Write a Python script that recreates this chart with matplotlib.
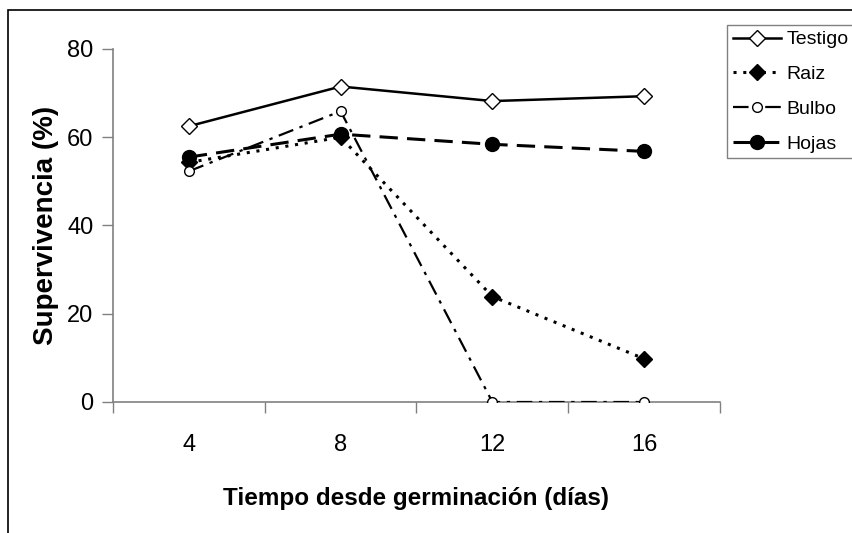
import numpy as np
from matplotlib import pyplot as plt
from matplotlib.patches import Rectangle

dias = ["4", "8", "12", "16"]
testigo = [62.5, 71.5, 68.2, 69.3]
raiz = [54.3, 60.0, 23.9, 9.8]
bulbo = [52.3, 65.9, 0.0, 0.0]
hojas = [55.5, 60.7, 58.4, 56.8]


def main():
  plt.rcParams["font.family"] = ["Liberation Sans", "DejaVu Sans"]
  fig = plt.figure(figsize=(8.53, 5.33), dpi=100)
  ax = fig.add_axes([113 / 853, 1 - 402 / 533, 607 / 853, 353 / 533])

  x = np.arange(len(dias))
  ax.plot(x, testigo, color="black", lw=1.8, ls="-", marker="D", ms=8,
          mfc="white", mec="black", mew=1, label="Testigo", zorder=3)
  ax.plot(x, raiz, color="black", lw=2.2, ls=(0, (1, 2.2)), marker="D", ms=8,
          mfc="black", mec="black", label="Raiz", zorder=3)
  ax.plot(x, bulbo, color="black", lw=1.6, ls=(0, (7, 3, 1.5, 3)), marker="o", ms=7,
          mfc="white", mec="black", mew=1, label="Bulbo", zorder=3)
  ax.plot(x, hojas, color="black", lw=2.2, ls=(0, (6, 3)), marker="o", ms=10,
          mfc="black", mec="black", label="Hojas", zorder=3)

  ax.set_xlim(-0.5, len(dias) - 0.5)
  ax.set_ylim(0, 80)
  ax.set_yticks([0, 20, 40, 60, 80])
  ax.set_xticks(np.arange(len(dias) + 1) - 0.5)
  ax.set_xticklabels([])
  ax.set_xticks(x, minor=True)
  ax.set_xticklabels(dias, minor=True)
  ax.tick_params(axis="x", which="major", length=8, width=1, color="#808080", direction="out")
  ax.tick_params(axis="x", which="minor", length=0, pad=23, labelsize=17)
  ax.tick_params(axis="y", length=8, width=1, color="#808080", labelsize=17, pad=6)

  for s in ["top", "right"]:
    ax.spines[s].set_visible(False)
  for s in ["left", "bottom"]:
    ax.spines[s].set_color("#808080")
    ax.spines[s].set_linewidth(1.2)

  ax.set_xlabel("Tiempo desde germinación (días)", fontsize=17.5, fontweight="bold", labelpad=22)
  ax.set_ylabel("Supervivencia (%)", fontsize=20, fontweight="bold", labelpad=6)

  leg = ax.legend(loc="upper left", bbox_to_anchor=(727 / 853, 1 - 25 / 533),
                  bbox_transform=fig.transFigure, fancybox=False, framealpha=1,
                  edgecolor="#808080", fontsize=14, handlelength=2.5,
                  handletextpad=0.25, labelspacing=0.88, borderpad=0.3,
                  borderaxespad=0)
  leg.get_frame().set_linewidth(1)

  fig.patches.append(Rectangle((8 / 853, -0.05), 1.0, 1.05 - 10 / 533,
                               transform=fig.transFigure, fill=False,
                               edgecolor="black", lw=1.2))

  plt.savefig("out.png", dpi=100)


if __name__ == "__main__":
  main()
